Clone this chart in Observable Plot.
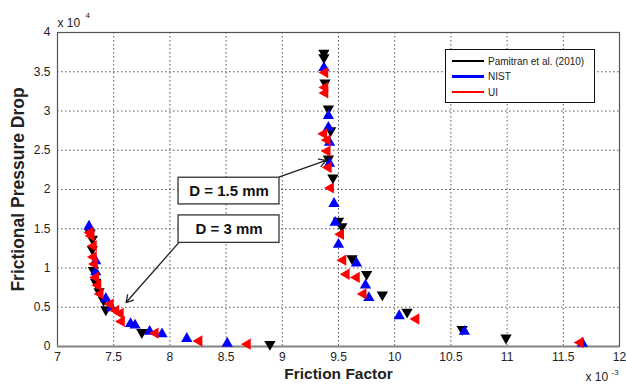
<!DOCTYPE html>
<html>
<head>
<meta charset="utf-8">
<script src="https://cdn.jsdelivr.net/npm/d3@7"></script>
<script src="https://cdn.jsdelivr.net/npm/@observablehq/plot@0.6"></script>
<style>
  body { margin: 0; background: #fff; }
  #wrap { position: relative; width: 626px; height: 387px; font-family: "Liberation Sans", Arial, sans-serif; }
  #legend { position: absolute; left: 445px; top: 49px; width: 150px; height: 54px; border: 1.3px solid #111; background: #fff; box-sizing: border-box; }
  .row { position: absolute; left: 6px; height: 12px; display: flex; align-items: center; font-size: 10px; color: #222; }
  .row span.sw { display: inline-block; width: 32px; height: 2.5px; margin-right: 4px; }
</style>
</head>
<body>
<div id="wrap"></div>
<script>
// Friction factor (x 10^-3) and frictional pressure drop (x 10^4)
const pamX = [9.37, 9.37, 9.38, 9.41, 9.43, 9.41, 9.45, 9.50, 9.53, 9.62, 9.75, 9.89, 10.11, 10.60, 10.99,
              7.29, 7.31, 7.31, 7.32, 7.34, 7.37, 7.41, 7.43, 7.75, 8.89];
const pamY = [3.74, 3.68, 3.36, 3.03, 2.75, 2.39, 2.15, 1.60, 1.53, 1.12, 0.92, 0.66, 0.44, 0.22, 0.11,
              1.45, 1.37, 1.24, 0.97, 0.82, 0.70, 0.59, 0.47, 0.18, 0.03];
const nistX = [9.37, 9.41, 9.41, 9.42, 9.42, 9.46, 9.47, 9.50, 9.66, 9.74, 9.77, 10.04, 10.62, 11.67,
               7.28, 7.34, 7.34, 7.43, 7.48, 7.65, 7.69, 7.82, 7.93, 8.15, 8.51];
const nistY = [3.55, 2.94, 2.79, 2.60, 2.33, 1.82, 1.58, 1.30, 1.06, 0.78, 0.62, 0.39, 0.19, 0.04,
               1.53, 1.09, 0.95, 0.61, 0.49, 0.29, 0.27, 0.19, 0.16, 0.10, 0.04];
const uiX = [9.38, 9.38, 9.38, 9.37, 9.40, 9.40, 9.41, 9.43, 9.52, 9.54, 9.57, 9.66, 9.72, 10.19, 11.65,
             7.29, 7.30, 7.32, 7.32, 7.33, 7.34, 7.36, 7.38, 7.47, 7.52, 7.56, 7.57, 7.87, 8.26, 8.69];
const uiY = [3.49, 3.30, 3.23, 2.71, 2.63, 2.49, 2.28, 2.02, 1.43, 1.10, 0.92, 0.88, 0.67, 0.35, 0.05,
             1.45, 1.41, 1.28, 1.14, 1.05, 0.88, 0.78, 0.67, 0.54, 0.46, 0.42, 0.32, 0.17, 0.07, 0.03];

const seriesNames = ["Pamitran et al. (2010)", "NIST", "UI"];
const seriesColors = ["#000000", "#0000ff", "#ff0000"];
const seriesRotate = [180, 0, -90];

const xTicks = [7, 7.5, 8, 8.5, 9, 9.5, 10, 10.5, 11, 11.5, 12];
const yTicks = [0, 0.5, 1, 1.5, 2, 2.5, 3, 3.5, 4];

// annotations: label, box extents (data units), arrow start/end
const annLabels = ["D = 1.5 mm", "D = 3 mm"];
const annBoxX1 = [8.077, 8.077], annBoxX2 = [8.975, 8.975];
const annBoxY1 = [1.81, 1.32], annBoxY2 = [2.15, 1.67];
const annArrX1 = [8.975, 8.077], annArrY1 = [2.16, 1.32];
const annArrX2 = [9.39, 7.61], annArrY2 = [2.37, 0.56];

const toRows = (xs, ys) => xs.map((x, i) => ({x, y: ys[i]}));
const series = [toRows(pamX, pamY), toRows(nistX, nistY), toRows(uiX, uiY)];
const anns = annLabels.map((t, i) => ({t, x1: annBoxX1[i], x2: annBoxX2[i], y1: annBoxY1[i], y2: annBoxY2[i],
  ax1: annArrX1[i], ay1: annArrY1[i], ax2: annArrX2[i], ay2: annArrY2[i]}));

const chart = Plot.plot({
  width: 626, height: 387,
  marginLeft: 57, marginRight: 7, marginTop: 32, marginBottom: 41,
  style: {fontFamily: "Liberation Sans, Arial, sans-serif", fontSize: "12px", color: "#222", background: "#fff"},
  x: {domain: [7, 12]},
  y: {domain: [0, 4]},
  marks: [
    Plot.gridX(xTicks, {stroke: "#555", strokeOpacity: 1, strokeWidth: 1, strokeDasharray: "1.5,2.5"}),
    Plot.gridY(yTicks, {stroke: "#555", strokeOpacity: 1, strokeWidth: 1, strokeDasharray: "1.5,2.5"}),
    Plot.axisX(xTicks, {tickSize: 0, tickPadding: 6, tickFormat: d => `${d}`, label: null, fontSize: 12}),
    Plot.axisY(yTicks, {tickSize: 0, tickPadding: 7, tickFormat: d => `${d}`, label: null, fontSize: 12}),
    Plot.frame({stroke: "#555", strokeWidth: 1.2}),
    Plot.ruleY([0], {stroke: "#888", strokeWidth: 2}),
    ...series.map((rows, k) => Plot.dot(rows, {x: "x", y: "y", symbol: "triangle", r: 4.2,
      fill: seriesColors[k], stroke: "none", rotate: seriesRotate[k]})),
    Plot.arrow(anns, {x1: "ax1", y1: "ay1", x2: "ax2", y2: "ay2", stroke: "#222", strokeWidth: 1.3, headLength: 9, bend: 0}),
    Plot.rect(anns, {x1: "x1", x2: "x2", y1: "y1", y2: "y2", fill: "#fff", stroke: "#333", strokeWidth: 1.3}),
    Plot.text(anns, {x: d => (d.x1 + d.x2) / 2, y: d => (d.y1 + d.y2) / 2, text: "t", fontSize: 15, fontWeight: "bold", fill: "#111"}),
    Plot.text(["Friction Factor"], {frameAnchor: "bottom", dy: 32, fontSize: 15.5, fontWeight: "bold", fill: "#222"}),
    Plot.text(["Frictional Pressure Drop"], {frameAnchor: "left", dx: -39, rotate: -90, textAnchor: "middle", fontSize: 17.5, fontWeight: "bold", fill: "#222"}),
    Plot.text(["x 10"], {frameAnchor: "top-left", dy: -14, textAnchor: "start", fontSize: 12, fill: "#222"}),
    Plot.text(["4"], {frameAnchor: "top-left", dx: 28, dy: -20, textAnchor: "start", fontSize: 8, fill: "#222"}),
    Plot.text(["x 10"], {frameAnchor: "bottom-right", dx: -34, dy: 34, textAnchor: "start", fontSize: 12, fill: "#222"}),
    Plot.text(["-3"], {frameAnchor: "bottom-right", dx: -8, dy: 28, textAnchor: "start", fontSize: 8, fill: "#222"})
  ]
});

const wrap = document.getElementById("wrap");
wrap.appendChild(chart);
const legend = document.createElement("div");
legend.id = "legend";
seriesNames.forEach((name, i) => {
  const row = document.createElement("div");
  row.className = "row";
  row.style.top = (5 + i * 15.5) + "px";
  const sw = document.createElement("span");
  sw.className = "sw";
  sw.style.background = seriesColors[i];
  row.appendChild(sw);
  row.appendChild(document.createTextNode(name));
  legend.appendChild(row);
});
wrap.appendChild(legend);
</script>
</body>
</html>
